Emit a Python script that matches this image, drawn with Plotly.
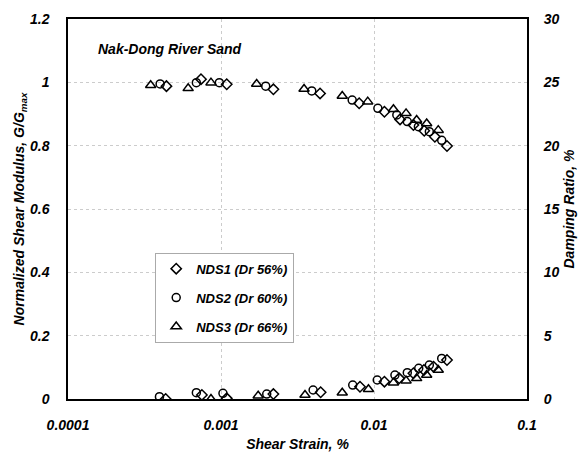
import plotly.graph_objects as go

# Shear strain (%) and normalized shear modulus G/Gmax
nds1_g_strain = [4.4e-4, 7.4e-4, 1.09e-3, 2.2e-3, 4.44e-3, 8.0e-3, 1.17e-2, 1.48e-2, 1.81e-2, 2.13e-2, 2.5e-2, 3.0e-2]
nds1_g = [0.988, 1.01, 0.994, 0.978, 0.965, 0.934, 0.907, 0.883, 0.865, 0.847, 0.828, 0.799]
nds2_g_strain = [4.0e-4, 6.9e-4, 9.75e-4, 1.96e-3, 3.92e-3, 7.2e-3, 1.06e-2, 1.41e-2, 1.65e-2, 1.95e-2, 2.3e-2, 2.77e-2]
nds2_g = [0.995, 0.999, 0.999, 0.988, 0.973, 0.944, 0.918, 0.897, 0.876, 0.86, 0.844, 0.817]
nds3_g_strain = [3.47e-4, 6.1e-4, 8.6e-4, 1.71e-3, 3.49e-3, 6.2e-3, 9.1e-3, 1.34e-2, 1.62e-2, 1.9e-2, 2.21e-2, 2.63e-2]
nds3_g = [0.991, 0.981, 0.999, 0.995, 0.979, 0.957, 0.939, 0.915, 0.902, 0.881, 0.870, 0.849]

# Shear strain (%) and damping ratio (%)
nds1_d_strain = [4.35e-4, 7.5e-4, 1.09e-3, 2.2e-3, 4.48e-3, 8.1e-3, 1.17e-2, 1.46e-2, 1.81e-2, 2.12e-2, 2.45e-2, 3.0e-2]
nds1_d = [0.0, 0.32, 0.05, 0.39, 0.53, 0.97, 1.37, 1.63, 2.03, 2.29, 2.55, 3.08]
nds2_d_strain = [3.96e-4, 6.9e-4, 1.03e-3, 1.99e-3, 4.0e-3, 7.26e-3, 1.05e-2, 1.37e-2, 1.65e-2, 1.96e-2, 2.3e-2, 2.77e-2]
nds2_d = [0.18, 0.5, 0.45, 0.39, 0.71, 1.1, 1.5, 1.89, 2.08, 2.42, 2.68, 3.2]
nds3_d_strain = [8.6e-4, 1.75e-3, 3.54e-3, 6.2e-3, 9.2e-3, 1.34e-2, 1.62e-2, 1.9e-2, 2.21e-2, 2.63e-2]
nds3_d = [0.0, 0.26, 0.32, 0.5, 0.77, 1.29, 1.45, 1.63, 1.89, 2.29]

series_names = ["NDS1 (Dr 56%)", "NDS2 (Dr 60%)", "NDS3 (Dr 66%)"]
x_tickvals = [1e-4, 1e-3, 1e-2, 1e-1]
x_ticktext = ["0.0001", "0.001", "0.01", "0.1"]
y_tickvals = [0, 0.2, 0.4, 0.6, 0.8, 1.0, 1.2]
y_ticktext = ["0", "0.2", "0.4", "0.6", "0.8", "1", "1.2"]
y2_tickvals = [0, 5, 10, 15, 20, 25, 30]

FONT = "Liberation Sans, Arial, sans-serif"
bi = dict(family=FONT, size=14, color="black", weight="bold", style="italic")

symbols = ["diamond-open", "circle-open", "triangle-up-open"]
sizes = [8, 8, 9]
g_data = [(nds1_g_strain, nds1_g), (nds2_g_strain, nds2_g), (nds3_g_strain, nds3_g)]
d_data = [(nds1_d_strain, nds1_d), (nds2_d_strain, nds2_d), (nds3_d_strain, nds3_d)]

fig = go.Figure()
for i in range(3):
    fig.add_trace(go.Scatter(
        x=g_data[i][0], y=g_data[i][1], mode="markers", name=series_names[i],
        legendgroup=str(i),
        marker=dict(symbol=symbols[i], size=sizes[i], color="black", line=dict(width=1.5, color="black")),
    ))
for i in range(3):
    fig.add_trace(go.Scatter(
        x=d_data[i][0], y=d_data[i][1], mode="markers", name=series_names[i],
        yaxis="y2", showlegend=False, legendgroup=str(i),
        marker=dict(symbol=symbols[i], size=sizes[i], color="black", line=dict(width=1.5, color="black")),
    ))

fig.update_layout(
    width=585, height=457,
    margin=dict(l=68, r=58, t=19, b=58),
    paper_bgcolor="white", plot_bgcolor="white",
    font=bi,
    showlegend=True,
    legend=dict(
        x=0.19, y=0.385, xanchor="left", yanchor="top",
        bgcolor="white", bordercolor="#aaaaaa", borderwidth=1,
        font=dict(family=FONT, size=13, color="black", weight="bold", style="italic"),
        tracegroupgap=9, itemwidth=30,
    ),
    xaxis=dict(
        type="log", range=[-4, -1], automargin=False,
        tickvals=x_tickvals, ticktext=x_ticktext,
        showgrid=True, gridcolor="#cccccc", griddash="dot", gridwidth=1,
        showline=True, linecolor="black", linewidth=1.5, mirror=True,
        ticks="", tickfont=bi, zeroline=False, ticklabelstandoff=12,
        title=dict(text="Shear Strain, %", font=bi, standoff=8),
    ),
    yaxis=dict(
        range=[0, 1.2], tickvals=y_tickvals, ticktext=y_ticktext, automargin=False,
        showgrid=True, gridcolor="#cccccc", griddash="dot", gridwidth=1,
        showline=True, linecolor="black", linewidth=1.5, mirror=True,
        ticks="", tickfont=bi, zeroline=False, ticklabelstandoff=14,
        title=dict(text="Normalized Shear Modulus, G/G<sub>max</sub>", font=bi, standoff=2),
    ),
    yaxis2=dict(
        range=[0, 30], tickvals=y2_tickvals, overlaying="y", side="right", automargin=False,
        showgrid=False, showline=True, linecolor="black", linewidth=2,
        ticks="", tickfont=bi, zeroline=False, ticklabelstandoff=12,
        title=dict(text="Damping Ratio, %", font=bi, standoff=6),
    ),
    annotations=[dict(
        text="Nak-Dong River Sand", xref="paper", yref="paper",
        x=0.06, y=0.92, xanchor="left", yanchor="middle", showarrow=False,
        font=dict(family=FONT, size=14, color="black", weight="bold", style="italic"),
    )],
)

fig.write_html("out.html")
